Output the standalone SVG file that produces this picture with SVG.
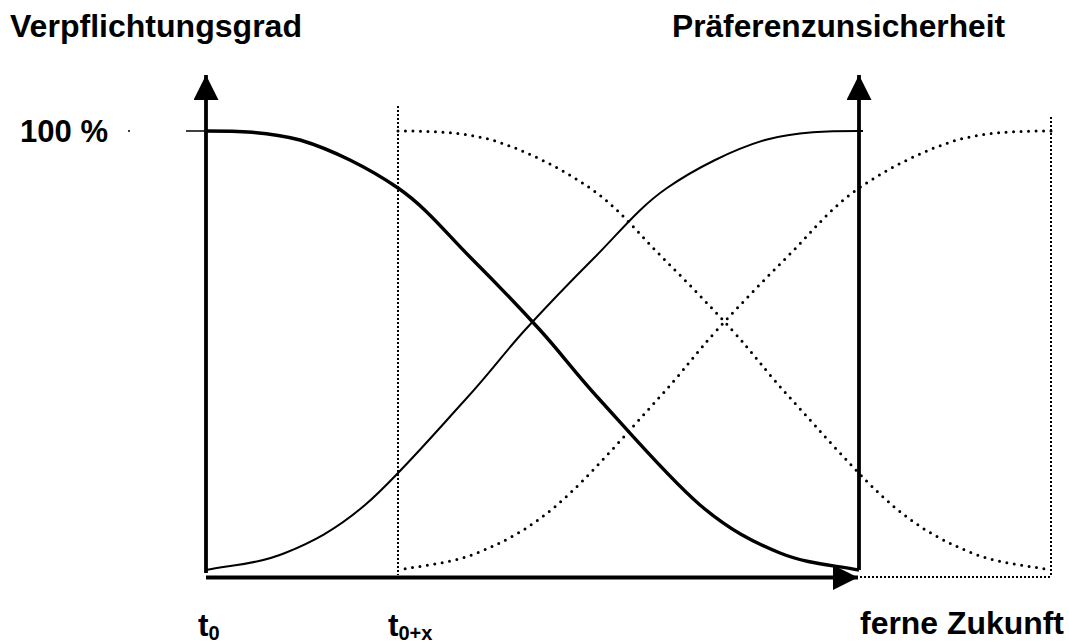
<svg xmlns="http://www.w3.org/2000/svg" xmlns:xlink="http://www.w3.org/1999/xlink" width="1069" height="642" viewBox="0 0 1069 642">
  <style>
    .lbl { font-family: "Liberation Sans", Arial, sans-serif; font-weight: bold; font-size: 31.5px; fill: #000; }
    .sub { font-size: 20px; }
    .axis { fill: none; stroke: #000; stroke-width: 3.8; }
    .thick { fill: none; stroke: #000; stroke-width: 3.4; }
    .thin { fill: none; stroke: #000; stroke-width: 2; }
    .dots { fill: none; stroke: #000; stroke-width: 3; stroke-dasharray: 0 7.5; stroke-linecap: round; }
    .fine { fill: none; stroke: #000; stroke-width: 2; stroke-dasharray: 2 2; }
  </style>
  <defs>
    <marker id="head" viewBox="0 0 25 25" refX="25" refY="12.5" markerWidth="25" markerHeight="25" markerUnits="userSpaceOnUse" orient="auto">
      <path d="M0,0 L25,12.5 L0,25 z" fill="#000"/>
    </marker>
    <path id="sig" d="M206,131 C236,131 268,131.5 300,140 C332,149.5 369.7,168.5 398,188 C426.3,207.5 446.3,233.3 470,257 C493.7,280.7 518.3,306.2 540,330 C561.7,353.8 573.3,370.8 600,400 C626.7,429.2 670,479.5 700,505 C730,530.5 753.5,542.2 780,553 C806.5,563.8 833,565 859,570"/>
  </defs>
  <rect width="1069" height="642" fill="#fff"/>

  <g id="labels">
    <text class="lbl" x="10" y="37" textLength="292" lengthAdjust="spacingAndGlyphs">Verpflichtungsgrad</text>
    <text class="lbl" x="672" y="37" textLength="333" lengthAdjust="spacingAndGlyphs">Präferenzunsicherheit</text>
    <text class="lbl" x="20" y="142" textLength="88" lengthAdjust="spacingAndGlyphs">100 %</text>
    <text class="lbl" x="198" y="636">t<tspan class="sub" dy="4">0</tspan></text>
    <text class="lbl" x="388" y="636">t<tspan class="sub" dy="4">0+x</tspan></text>
    <text class="lbl" x="860" y="634" textLength="204" lengthAdjust="spacingAndGlyphs">ferne Zukunft</text>
    <circle cx="129" cy="131" r="1" fill="#000"/>
  </g>

  <g id="guides">
    <line class="fine" x1="398" y1="106" x2="398" y2="575"/>
    <line class="fine" x1="1051" y1="117" x2="1051" y2="577"/>
    <line class="fine" x1="860" y1="577" x2="1051" y2="577"/>
    <line x1="186" y1="131" x2="206" y2="131" stroke="#000" stroke-width="1.5"/>
    <line x1="859" y1="131" x2="863" y2="131" stroke="#000" stroke-width="2"/>
  </g>

  <g id="curves">
    <use xlink:href="#sig" class="thick"/>
    <use xlink:href="#sig" class="thin" transform="matrix(-1 0 0 1 1065 0)"/>
    <use xlink:href="#sig" class="dots" transform="translate(192 0)"/>
    <use xlink:href="#sig" class="dots" transform="matrix(-1 0 0 1 1257 0)"/>
  </g>

  <g id="axes">
    <line class="axis" x1="206" y1="573" x2="206" y2="75" marker-end="url(#head)"/>
    <line class="axis" x1="859" y1="570" x2="859" y2="75" marker-end="url(#head)"/>
    <line class="axis" x1="206" y1="577.5" x2="858" y2="577.5" marker-end="url(#head)"/>
  </g>
</svg>
